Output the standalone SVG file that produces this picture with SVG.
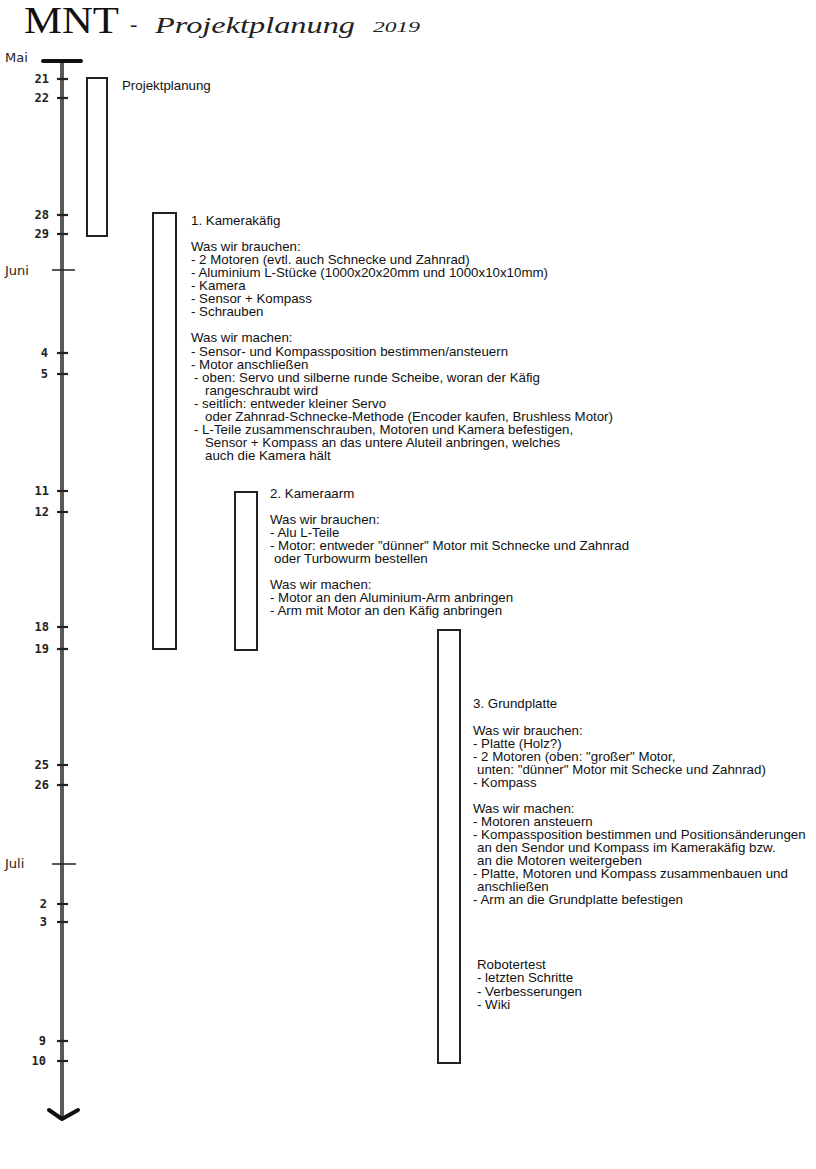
<svg xmlns="http://www.w3.org/2000/svg" width="816" height="1169" viewBox="0 0 816 1169">
<style>
.t{font-family:"Liberation Sans",Arial,sans-serif;font-size:13.3px;fill:#111}
.num{font-family:"DejaVu Sans Mono",monospace;font-weight:bold;font-size:12px;fill:#222;text-anchor:end}
.mon{font-family:"DejaVu Sans",sans-serif;font-size:13px;fill:#222}
.hand{font-family:"Liberation Serif",serif;font-style:italic;fill:#222}
.tick{stroke:#222;stroke-width:2.2}
.mtick{stroke:#222;stroke-width:1.5}
.bar{fill:none;stroke:#222;stroke-width:2}
</style>
<rect width="816" height="1169" fill="#fff"/>
<g id="title">
<text x="24" y="33" font-family="Liberation Serif,serif" font-size="37" fill="#111" textLength="95" lengthAdjust="spacingAndGlyphs">MNT</text>
<text x="130" y="31" class="hand" font-size="22">-</text>
<text x="155" y="33" class="hand" font-size="24" textLength="200" lengthAdjust="spacingAndGlyphs">Projektplanung</text>
<text x="373" y="32" class="hand" font-size="14" font-style="normal" textLength="47" lengthAdjust="spacingAndGlyphs">2019</text>
</g>
<g id="axis">
<line x1="62" y1="61" x2="62" y2="1118" stroke="#5a5a5a" stroke-width="4"/>
<line x1="43" y1="61" x2="81" y2="61" stroke="#111" stroke-width="4" stroke-linecap="round"/>
<polyline points="49,1110 62,1119 78,1110" fill="none" stroke="#111" stroke-width="4" stroke-linecap="round" stroke-linejoin="round"/>
<text x="5" y="62" class="mon">Mai</text>
<text x="5" y="275" class="mon">Juni</text>
<text x="5" y="868" class="mon">Juli</text>
<line x1="52" y1="270" x2="75" y2="270" class="mtick"/>
<line x1="52" y1="864" x2="76" y2="864" class="mtick"/>
<g class="tick">
<line x1="57" y1="79" x2="68" y2="79"/>
<line x1="57" y1="98" x2="68" y2="98"/>
<line x1="57" y1="215" x2="68" y2="215"/>
<line x1="57" y1="234" x2="68" y2="234"/>
<line x1="57" y1="353" x2="68" y2="353"/>
<line x1="57" y1="374" x2="68" y2="374"/>
<line x1="57" y1="491" x2="68" y2="491"/>
<line x1="57" y1="512" x2="68" y2="512"/>
<line x1="57" y1="627" x2="68" y2="627"/>
<line x1="57" y1="649" x2="68" y2="649"/>
<line x1="57" y1="765" x2="68" y2="765"/>
<line x1="57" y1="785" x2="68" y2="785"/>
<line x1="57" y1="904" x2="68" y2="904"/>
<line x1="57" y1="922" x2="68" y2="922"/>
<line x1="57" y1="1041" x2="68" y2="1041"/>
<line x1="57" y1="1061" x2="68" y2="1061"/>
</g>
<text x="49" y="83" class="num">21</text>
<text x="49" y="102" class="num">22</text>
<text x="49" y="219" class="num">28</text>
<text x="49" y="238" class="num">29</text>
<text x="48" y="357" class="num">4</text>
<text x="48" y="378" class="num">5</text>
<text x="49" y="495" class="num">11</text>
<text x="49" y="516" class="num">12</text>
<text x="49" y="631" class="num">18</text>
<text x="49" y="653" class="num">19</text>
<text x="49" y="769" class="num">25</text>
<text x="49" y="789" class="num">26</text>
<text x="47" y="908" class="num">2</text>
<text x="47" y="926" class="num">3</text>
<text x="46" y="1045" class="num">9</text>
<text x="46" y="1065" class="num">10</text>
</g>
<g id="projektplanung">
<rect x="87" y="78" width="20" height="158" class="bar"/>
<text x="122" y="90" class="t">Projektplanung</text>
</g>
<g id="kamerakaefig">
<rect x="153" y="213" width="23" height="436" class="bar"/>
<text class="t">
<tspan x="191" y="224.5">1. Kamerakäfig</tspan>
<tspan x="191" y="250.7">Was wir brauchen:</tspan>
<tspan x="191" y="263.8">- 2 Motoren (evtl. auch Schnecke und Zahnrad)</tspan>
<tspan x="191" y="276.9">- Aluminium L-Stücke (1000x20x20mm und 1000x10x10mm)</tspan>
<tspan x="191" y="290">- Kamera</tspan>
<tspan x="191" y="303.1">- Sensor + Kompass</tspan>
<tspan x="191" y="316.2">- Schrauben</tspan>
<tspan x="191" y="342.4">Was wir machen:</tspan>
<tspan x="191" y="355.5">- Sensor- und Kompassposition bestimmen/ansteuern</tspan>
<tspan x="191" y="368.6">- Motor anschließen</tspan>
<tspan x="194" y="381.7">- oben: Servo und silberne runde Scheibe, woran der Käfig</tspan>
<tspan x="205" y="394.8">rangeschraubt wird</tspan>
<tspan x="194" y="407.9">- seitlich: entweder kleiner Servo</tspan>
<tspan x="205" y="421">oder Zahnrad-Schnecke-Methode (Encoder kaufen, Brushless Motor)</tspan>
<tspan x="194" y="434.1">- L-Teile zusammenschrauben, Motoren und Kamera befestigen,</tspan>
<tspan x="205" y="447.2">Sensor + Kompass an das untere Aluteil anbringen, welches</tspan>
<tspan x="205" y="460.3">auch die Kamera hält</tspan>
</text>
</g>
<g id="kameraarm">
<rect x="235" y="492" width="22" height="158" class="bar"/>
<text class="t">
<tspan x="270" y="497.5">2. Kameraarm</tspan>
<tspan x="270" y="523.7">Was wir brauchen:</tspan>
<tspan x="270" y="536.8">- Alu L-Teile</tspan>
<tspan x="270" y="549.9">- Motor: entweder "dünner" Motor mit Schnecke und Zahnrad</tspan>
<tspan x="274" y="563">oder Turbowurm bestellen</tspan>
<tspan x="270" y="589.2">Was wir machen:</tspan>
<tspan x="270" y="602.3">- Motor an den Aluminium-Arm anbringen</tspan>
<tspan x="270" y="615.4">- Arm mit Motor an den Käfig anbringen</tspan>
</text>
</g>
<g id="grundplatte">
<rect x="438" y="630" width="22" height="433" class="bar"/>
<text class="t">
<tspan x="473" y="708">3. Grundplatte</tspan>
<tspan x="473" y="734.6">Was wir brauchen:</tspan>
<tspan x="473" y="747.6">- Platte (Holz?)</tspan>
<tspan x="473" y="760.6">- 2 Motoren (oben: "großer" Motor,</tspan>
<tspan x="477" y="773.6">unten: "dünner" Motor mit Schecke und Zahnrad)</tspan>
<tspan x="473" y="786.6">- Kompass</tspan>
<tspan x="473" y="812.6">Was wir machen:</tspan>
<tspan x="473" y="825.6">- Motoren ansteuern</tspan>
<tspan x="473" y="838.6">- Kompassposition bestimmen und Positionsänderungen</tspan>
<tspan x="477" y="851.6">an den Sendor und Kompass im Kamerakäfig bzw.</tspan>
<tspan x="477" y="864.6">an die Motoren weitergeben</tspan>
<tspan x="473" y="877.6">- Platte, Motoren und Kompass zusammenbauen und</tspan>
<tspan x="477" y="890.6">anschließen</tspan>
<tspan x="473" y="903.6">- Arm an die Grundplatte befestigen</tspan>
</text>
<text class="t">
<tspan x="477" y="969">Robotertest</tspan>
<tspan x="477" y="982.3">- letzten Schritte</tspan>
<tspan x="477" y="995.6">- Verbesserungen</tspan>
<tspan x="477" y="1008.9">- Wiki</tspan>
</text>
</g>
</svg>
